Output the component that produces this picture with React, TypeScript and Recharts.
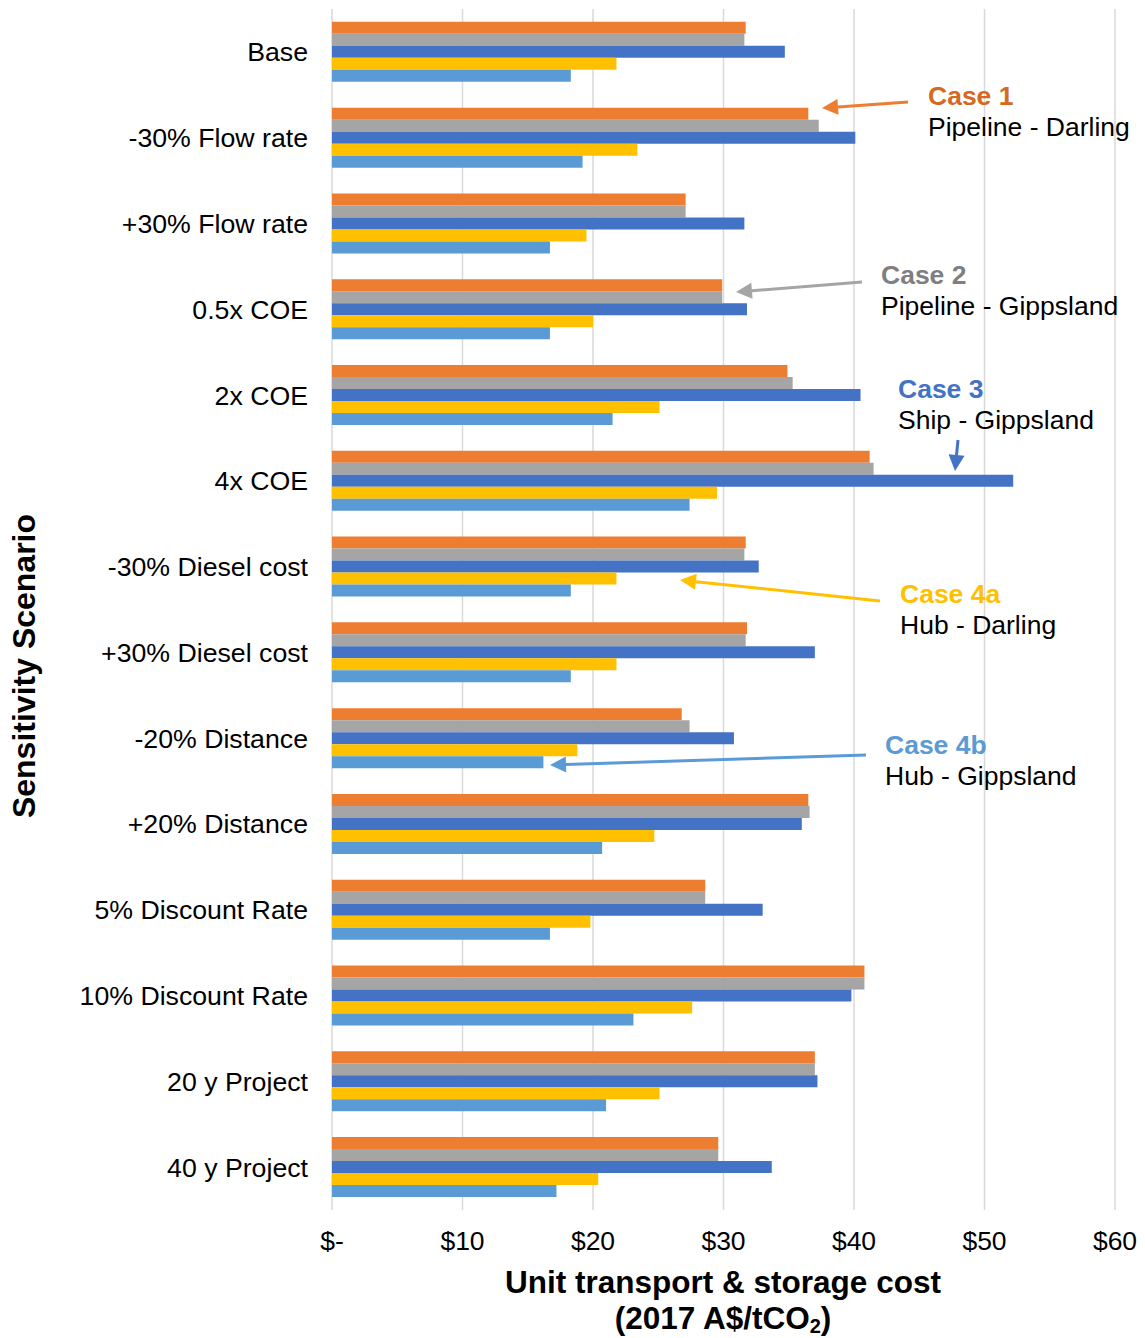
import { Bar, BarChart, CartesianGrid, XAxis, YAxis } from 'recharts'

const categories = [
  'Base',
  '-30% Flow rate',
  '+30% Flow rate',
  '0.5x COE',
  '2x COE',
  '4x COE',
  '-30% Diesel cost',
  '+30% Diesel cost',
  '-20% Distance',
  '+20% Distance',
  '5% Discount Rate',
  '10% Discount Rate',
  '20 y Project',
  '40 y Project',
]

const case1 = [31.7, 36.5, 27.1, 29.9, 34.9, 41.2, 31.7, 31.8, 26.8, 36.5, 28.6, 40.8, 37.0, 29.6]
const case2 = [31.6, 37.3, 27.1, 29.9, 35.3, 41.5, 31.6, 31.7, 27.4, 36.6, 28.6, 40.8, 37.0, 29.6]
const case3 = [34.7, 40.1, 31.6, 31.8, 40.5, 52.2, 32.7, 37.0, 30.8, 36.0, 33.0, 39.8, 37.2, 33.7]
const case4a = [21.8, 23.4, 19.5, 20.0, 25.1, 29.5, 21.8, 21.8, 18.8, 24.7, 19.8, 27.6, 25.1, 20.4]
const case4b = [18.3, 19.2, 16.7, 16.7, 21.5, 27.4, 18.3, 18.3, 16.2, 20.7, 16.7, 23.1, 21.0, 17.2]

const xTicks = [0, 10, 20, 30, 40, 50, 60]

const FONT = '"Liberation Sans", Arial, sans-serif'

const chartData = categories.map((name, i) => ({
  name,
  c1: case1[i],
  c2: case2[i],
  c3: case3[i],
  c4a: case4a[i],
  c4b: case4b[i],
}))

function Arrow({ x1, y1, x2, y2, color }: { x1: number; y1: number; x2: number; y2: number; color: string }) {
  // arrow drawn from (x1,y1) to head at (x2,y2)
  const a = Math.atan2(y2 - y1, x2 - x1)
  const len = 16
  const w = 8
  const bx = x2 - len * Math.cos(a)
  const by = y2 - len * Math.sin(a)
  const px = -Math.sin(a) * w
  const py = Math.cos(a) * w
  return (
    <g>
      <line x1={x1} y1={y1} x2={bx} y2={by} stroke={color} strokeWidth={3} />
      <polygon points={`${x2},${y2} ${bx + px},${by + py} ${bx - px},${by - py}`} fill={color} />
    </g>
  )
}

function Note({ x, y, title, sub, color }: { x: number; y: number; title: string; sub: string; color: string }) {
  return (
    <g fontFamily={FONT} fontSize={26.5}>
      <text x={x} y={y} fill={color} fontWeight="bold">{title}</text>
      <text x={x} y={y + 31} fill="#000">{sub}</text>
    </g>
  )
}

export default function App() {
  return (
    <div style={{ position: 'absolute', left: 0, top: 0, width: 1145, height: 1338, background: '#fff' }}>
      <BarChart
        width={1145}
        height={1338}
        data={chartData}
        layout="vertical"
        margin={{ top: 9, right: 30, bottom: 88, left: 0 }}
        barCategoryGap="15%"
        barGap={0}
      >
        <CartesianGrid horizontal={false} stroke="#D9D9D9" strokeWidth={1.5} />
        <XAxis
          type="number"
          domain={[0, 60]}
          ticks={xTicks}
          tickFormatter={(v: number) => (v === 0 ? '$-' : `$${v}`)}
          axisLine={false}
          tickLine={false}
          tickSize={0}
          tickMargin={21}
          height={40}
          tick={{ fill: '#000', fontSize: 26.5, fontFamily: FONT }}
          interval={0}
        />
        <YAxis
          type="category"
          dataKey="name"
          width={332}
          axisLine={false}
          tickLine={false}
          tickSize={0}
          tickMargin={24}
          tick={{ fill: '#000', fontSize: 26.7, fontFamily: FONT }}
          interval={0}
        />
        <Bar dataKey="c1" fill="#ED7D31" isAnimationActive={false} />
        <Bar dataKey="c2" fill="#A5A5A5" isAnimationActive={false} />
        <Bar dataKey="c3" fill="#4472C4" isAnimationActive={false} />
        <Bar dataKey="c4a" fill="#FFC000" isAnimationActive={false} />
        <Bar dataKey="c4b" fill="#5B9BD5" isAnimationActive={false} />
      </BarChart>
      <svg
        width={1145}
        height={1338}
        style={{ position: 'absolute', left: 0, top: 0, pointerEvents: 'none' }}
      >
        <text
          transform="translate(35, 666) rotate(-90)"
          textAnchor="middle"
          fontFamily={FONT}
          fontSize={32}
          fontWeight="bold"
          fill="#000"
        >
          Sensitivity Scenario
        </text>
        <g fontFamily={FONT} fontSize={31.5} fontWeight="bold" fill="#000" textAnchor="middle">
          <text x={723} y={1293}>Unit transport &amp; storage cost</text>
          <text x={723} y={1329}>
            (2017 A$/tCO<tspan fontSize={20} dy={4}>2</tspan><tspan dy={-4}>)</tspan>
          </text>
        </g>

        <Arrow x1={908} y1={102} x2={822} y2={108} color="#ED7D31" />
        <Arrow x1={862} y1={282} x2={736} y2={292} color="#A5A5A5" />
        <Arrow x1={958} y1={440} x2={955} y2={471} color="#4472C4" />
        <Arrow x1={880} y1={601} x2={680} y2={580} color="#FFC000" />
        <Arrow x1={866} y1={755} x2={550} y2={765} color="#5B9BD5" />

        <Note x={928} y={105} title="Case 1" sub="Pipeline - Darling" color="#D4691F" />
        <Note x={881} y={284} title="Case 2" sub="Pipeline - Gippsland" color="#7F7F7F" />
        <Note x={898} y={398} title="Case 3" sub="Ship - Gippsland" color="#4472C4" />
        <Note x={900} y={603} title="Case 4a" sub="Hub - Darling" color="#FFC000" />
        <Note x={885} y={754} title="Case 4b" sub="Hub - Gippsland" color="#5B9BD5" />
      </svg>
    </div>
  )
}
